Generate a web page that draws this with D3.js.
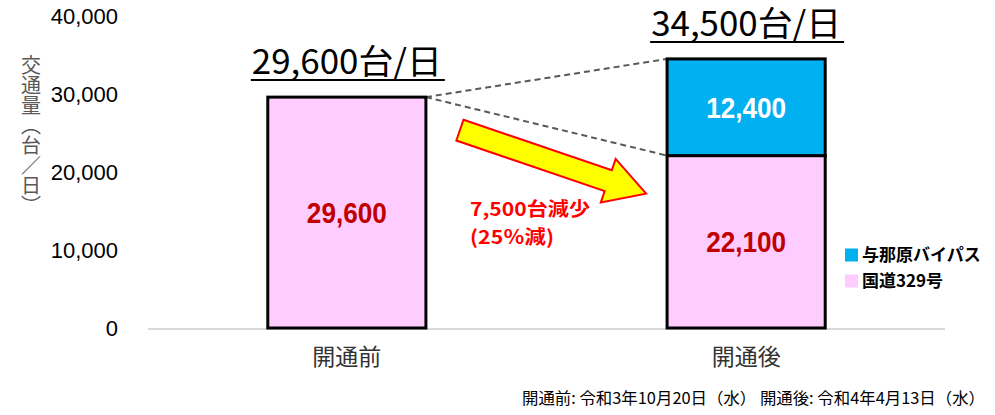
<!DOCTYPE html>
<html>
<head>
<meta charset="utf-8">
<script src="https://cdn.jsdelivr.net/npm/d3@7"></script>
<style>
  body { margin: 0; background: #fff; }
  svg { display: block; }
</style>
</head>
<body>
<script>
const width = 995
const height = 415

const categories = ['開通前', '開通後']
const route329 = [29600, 22100]
const bypass = [0, 12400]
const totals = [29600, 34500]
const yTicks = [0, 10000, 20000, 30000, 40000]
const legendNames = ['与那原バイパス', '国道329号']

const colors = { route: '#FFCCFF', bypass: '#00B0F0' }
const jp = '"Noto Sans CJK JP", "Noto Sans", sans-serif'
const narrow = '"Liberation Sans Narrow", "Noto Sans CJK JP", sans-serif'

const x = d3.scaleBand()
  .domain(categories)
  .range([148, 945])
  .paddingInner(0.604)
  .paddingOuter(0.3)

const y = d3.scaleLinear().domain([0, 40000]).range([328, 16])

const svg = d3.select('body').append('svg').attr('width', width).attr('height', height)

// baseline
svg.append('line')
  .attr('x1', 148).attr('x2', 945)
  .attr('y1', y(0) + 1).attr('y2', y(0) + 1)
  .attr('stroke', '#D9D9D9').attr('stroke-width', 2)

// y axis labels
const yAxis = svg.append('g')
  .attr('transform', 'translate(118,0)')
  .call(d3.axisLeft(y).tickValues(yTicks).tickFormat(d3.format(',')).tickSize(0).tickPadding(0))
yAxis.select('.domain').remove()
yAxis.selectAll('text')
  .attr('font-family', '"Liberation Sans", sans-serif')
  .attr('font-size', 22)
  .attr('fill', '#000')

// y axis title (vertical)
svg.append('text')
  .attr('x', 31).attr('y', 55)
  .attr('writing-mode', 'vertical-rl')
  .attr('font-family', jp)
  .attr('font-size', 20)
  .attr('fill', '#595959')
  .text('交通量（台／日）')

// dashed guide lines
const bw = x.bandwidth()
const x1r = x(categories[0]) + bw
const x2l = x(categories[1])
svg.selectAll('line.guide')
  .data([totals[1], route329[1]])
  .join('line')
  .attr('class', 'guide')
  .attr('x1', x1r).attr('y1', y(totals[0]))
  .attr('x2', x2l).attr('y2', d => y(d))
  .attr('stroke', '#595959')
  .attr('stroke-width', 2)
  .attr('stroke-dasharray', '6,4')

// bars
const bars = svg.append('g')
bars.selectAll('rect.route')
  .data(categories)
  .join('rect')
  .attr('class', 'route')
  .attr('x', d => x(d))
  .attr('width', bw)
  .attr('y', (d, i) => y(route329[i]))
  .attr('height', (d, i) => y(0) - y(route329[i]))
  .attr('fill', colors.route)
  .attr('stroke', '#000')
  .attr('stroke-width', 3)

bars.selectAll('rect.bypass')
  .data(categories.filter((d, i) => bypass[i] > 0))
  .join('rect')
  .attr('class', 'bypass')
  .attr('x', d => x(d))
  .attr('width', bw)
  .attr('y', d => { const i = categories.indexOf(d); return y(route329[i] + bypass[i]) })
  .attr('height', d => { const i = categories.indexOf(d); return y(route329[i]) - y(route329[i] + bypass[i]) })
  .attr('fill', colors.bypass)
  .attr('stroke', '#000')
  .attr('stroke-width', 3)

// value labels
const labelFont = '"Liberation Sans", sans-serif'
svg.selectAll('text.routeLabel')
  .data(categories)
  .join('text')
  .attr('class', 'routeLabel')
  .attr('x', d => x(d) + bw / 2)
  .attr('y', (d, i) => y(route329[i] / 2))
  .attr('dy', '0.36em')
  .attr('text-anchor', 'middle')
  .attr('font-family', labelFont)
  .attr('font-weight', 'bold')
  .attr('font-size', 29)
  .attr('textLength', 80)
  .attr('lengthAdjust', 'spacingAndGlyphs')
  .attr('fill', '#C00000')
  .text((d, i) => d3.format(',')(route329[i]))

svg.selectAll('text.bypassLabel')
  .data(categories.filter((d, i) => bypass[i] > 0))
  .join('text')
  .attr('class', 'bypassLabel')
  .attr('x', d => x(d) + bw / 2)
  .attr('y', d => { const i = categories.indexOf(d); return y(route329[i] + bypass[i] / 2) })
  .attr('dy', '0.36em')
  .attr('text-anchor', 'middle')
  .attr('font-family', labelFont)
  .attr('font-weight', 'bold')
  .attr('font-size', 29)
  .attr('textLength', 80)
  .attr('lengthAdjust', 'spacingAndGlyphs')
  .attr('fill', '#fff')
  .text(d => d3.format(',')(bypass[categories.indexOf(d)]))

// total titles with underline
const titles = svg.selectAll('g.total')
  .data(categories)
  .join('g')
  .attr('class', 'total')
  .attr('transform', (d, i) => `translate(${x(d) + bw / 2},${y(totals[i])})`)
titles.append('text')
  .attr('y', -23)
  .attr('text-anchor', 'middle')
  .attr('font-family', narrow)
  .attr('font-size', 34)
  .attr('textLength', 190)
  .attr('lengthAdjust', 'spacingAndGlyphs')
  .attr('fill', '#000')
  .text((d, i) => d3.format(',')(totals[i]) + '台/日')
titles.append('line')
  .attr('x1', -96).attr('x2', 98)
  .attr('y1', -17).attr('y2', -17)
  .attr('stroke', '#000').attr('stroke-width', 2)

// arrow
const tail = [x1r + 34, y(totals[0]) + 33]
const tip = [x2l - 21, y(route329[1]) + 38]
const dx = tip[0] - tail[0], dy = tip[1] - tail[1]
const len = Math.hypot(dx, dy)
const ang = Math.atan2(dy, dx) * 180 / Math.PI
const sw = 11, hw = 23, hl = 40
svg.append('path')
  .attr('transform', `translate(${tail}) rotate(${ang})`)
  .attr('d', `M0,${-sw} L${len - hl},${-sw} L${len - hl},${-hw} L${len},0 L${len - hl},${hw} L${len - hl},${sw} L0,${sw} Z`)
  .attr('fill', '#FFFF00')
  .attr('stroke', '#FF0000')
  .attr('stroke-width', 2)
  .attr('stroke-linejoin', 'miter')

const noteLines = ['7,500台減少', '(25％減)']
const noteWidths = [120, 84]
svg.selectAll('text.note')
  .data(noteLines)
  .join('text')
  .attr('class', 'note')
  .attr('x', 470)
  .attr('y', (d, i) => 216 + i * 28)
  .attr('font-family', jp)
  .attr('font-weight', 'bold')
  .attr('font-size', 19)
  .attr('textLength', (d, i) => noteWidths[i])
  .attr('lengthAdjust', 'spacingAndGlyphs')
  .attr('fill', '#FF0000')
  .text(d => d)

// category labels
svg.selectAll('text.cat')
  .data(categories)
  .join('text')
  .attr('class', 'cat')
  .attr('x', d => x(d) + bw / 2)
  .attr('y', 357)
  .attr('dy', '0.36em')
  .attr('text-anchor', 'middle')
  .attr('font-family', jp)
  .attr('font-size', 23)
  .attr('fill', '#333')
  .text(d => d)

// legend
const legend = svg.selectAll('g.legend')
  .data(legendNames)
  .join('g')
  .attr('class', 'legend')
  .attr('transform', (d, i) => `translate(845,${255 + i * 26})`)
legend.append('rect')
  .attr('x', 0).attr('y', -6.5)
  .attr('width', 13).attr('height', 13)
  .attr('fill', (d, i) => i === 0 ? colors.bypass : colors.route)
legend.append('text')
  .attr('x', 17)
  .attr('dy', '0.36em')
  .attr('font-family', jp)
  .attr('font-weight', 'bold')
  .attr('font-size', 17)
  .attr('fill', '#000')
  .text(d => d)

// footnote
svg.append('text')
  .attr('x', 985).attr('y', 398)
  .attr('dy', '0.36em')
  .attr('text-anchor', 'end')
  .attr('font-family', jp)
  .attr('font-size', 16)
  .attr('textLength', 463)
  .attr('lengthAdjust', 'spacingAndGlyphs')
  .attr('fill', '#000')
  .text('開通前: 令和3年10月20日（水） 開通後: 令和4年4月13日（水）')
</script>
</body>
</html>
